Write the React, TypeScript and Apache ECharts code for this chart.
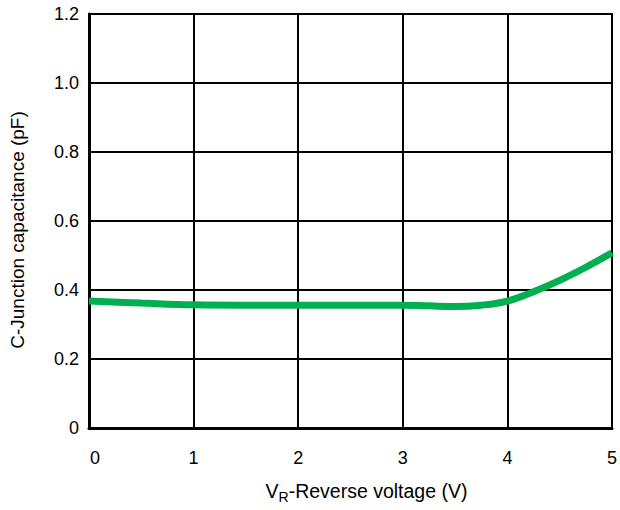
import React, { useEffect, useRef } from "react";
import * as echarts from "echarts";

const voltage = [0, 0.5, 1, 1.5, 2, 2.5, 3, 3.25, 3.5, 3.75, 4, 4.25, 4.5, 4.75, 5];
const capacitance = [0.368, 0.362, 0.357, 0.356, 0.356, 0.356, 0.356, 0.354, 0.352, 0.356, 0.368, 0.395, 0.428, 0.466, 0.508];
const yTickLabels: Record<string, string> = { "0": "0", "0.2": "0.2", "0.4": "0.4", "0.6": "0.6", "0.8": "0.8", "1": "1.0", "1.2": "1.2" };

const FONT = "'Liberation Sans', Arial, sans-serif";

export default function App() {
  const ref = useRef<HTMLDivElement>(null);
  useEffect(() => {
    if (!ref.current) return;
    const chart = echarts.init(ref.current, undefined, { renderer: "svg" });
    chart.setOption({
      animation: false,
      backgroundColor: "#ffffff",
      grid: {
        left: 89,
        right: 8,
        top: 14,
        bottom: 82,
        show: true,
        borderColor: "#000",
        borderWidth: 2,
      },
      xAxis: {
        type: "value",
        min: 0,
        max: 5,
        interval: 1,
        name: "{a|V}{b|R}{a|-Reverse voltage (V)}",
        nameLocation: "middle",
        nameGap: 51,
        nameTextStyle: {
          fontFamily: FONT,
          color: "#000",
          padding: [0, 0, 0, 32],
          rich: {
            a: { fontSize: 19.5, fontFamily: FONT, color: "#000", lineHeight: 22, verticalAlign: "bottom" },
            b: { fontSize: 14, fontFamily: FONT, color: "#000", lineHeight: 22, verticalAlign: "bottom", padding: [0, 0, -3, 0] },
          },
        },
        axisLine: { show: true, onZero: false, lineStyle: { color: "#000", width: 3 } },
        axisTick: { show: false },
        axisLabel: {
          fontSize: 18,
          fontFamily: FONT,
          color: "#000",
          margin: 21,
          formatter: (v: number) => (v === 0 ? "{p|0}" : String(v)),
          rich: { p: { fontSize: 18, fontFamily: FONT, color: "#000", padding: [0, 0, 0, 12] } },
        },
        splitLine: { show: true, lineStyle: { color: "#000", width: 2 } },
      },
      yAxis: {
        type: "value",
        min: 0,
        max: 1.2,
        interval: 0.2,
        name: "C-Junction capacitance (pF)",
        nameLocation: "middle",
        nameGap: 62,
        nameTextStyle: { fontSize: 19, fontFamily: FONT, color: "#000", padding: [0, 18, 0, 0] },
        axisLine: { show: true, lineStyle: { color: "#000", width: 3 } },
        axisTick: { show: false },
        axisLabel: {
          fontSize: 18,
          fontFamily: FONT,
          color: "#000",
          margin: 10,
          formatter: (v: number) => yTickLabels[String(Math.round(v * 10) / 10)] ?? String(v),
        },
        splitLine: { show: true, lineStyle: { color: "#000", width: 2 } },
      },
      series: [
        {
          type: "line",
          data: voltage.map((v, i) => [v, capacitance[i]]),
          smooth: 0.4,
          showSymbol: false,
          symbol: "none",
          lineStyle: { color: "#00b050", width: 7 },
          z: 5,
        },
      ],
    });
    return () => chart.dispose();
  }, []);
  return <div ref={ref} style={{ position: "absolute", left: 0, top: 0, width: 620, height: 510 }} />;
}
